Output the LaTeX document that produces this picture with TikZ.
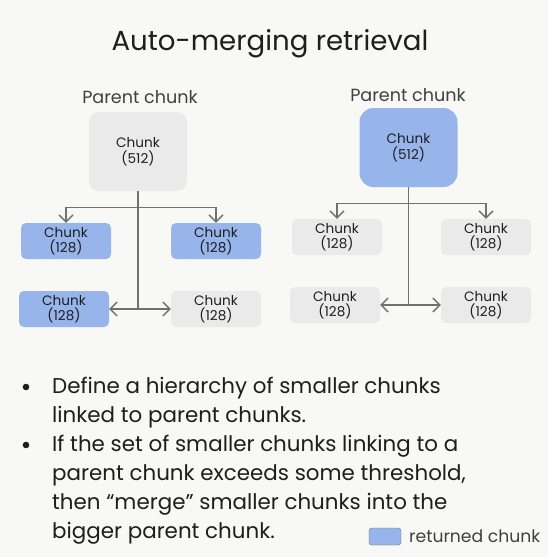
\documentclass[tikz,border=0pt]{standalone}
\usepackage{fontspec}
\setmainfont{Poppins}
\usetikzlibrary{arrows.meta}
\definecolor{chunkblue}{HTML}{97B5EB}
\definecolor{chunkgray}{HTML}{EAEAEA}
\definecolor{pagegray}{HTML}{F8F8F7}
\definecolor{linkgray}{HTML}{707070}
\definecolor{inkblack}{HTML}{1E1E1E}

\tikzset{
  chunk/.style={rounded corners=5pt, minimum width=90pt, minimum height=36pt, inner sep=0pt, align=center, text=inkblack, font=\fontsize{13.6}{15.5}\selectfont},
  parentchunk/.style={chunk, minimum width=98pt, minimum height=79pt, rounded corners=10pt},
  link/.style={draw=linkgray, line width=1.4pt, -{Straight Barb[length=7pt,width=14pt]}},
  caption/.style={anchor=base, text=inkblack!85, font=\fontsize{17.6}{20}\selectfont},
  bullettext/.style={anchor=base west, inner sep=0pt, text=inkblack, font=\fontsize{21.4}{29}\selectfont},
}

\begin{document}
\begin{tikzpicture}[x=1pt, y=-1pt]
\fill[pagegray] (0,0) rectangle (548,557);

\node[anchor=base, inner sep=0pt, text=inkblack, font=\fontsize{27.6}{32}\selectfont] (title) at (270,50) {Auto-merging retrieval};

% left: children returned
\node[caption] (capl) at (140,103) {Parent chunk};
\node[parentchunk, fill=chunkgray] (pl) at (138,151.5) {Chunk\\(512)};
\node[chunk, fill=chunkblue] (la) at (66,241) {Chunk\\(128)};
\node[chunk, fill=chunkblue] (lb) at (216,241) {Chunk\\(128)};
\node[chunk, fill=chunkblue] (lc) at (64,309) {Chunk\\(128)};
\node[chunk, fill=chunkgray] (ld) at (216,309) {Chunk\\(128)};
\draw[link] (pl.south) -- ++(0,16) -| (la.north);
\draw[link] (pl.south) -- ++(0,16) -| (lb.north);
\draw[link] (pl.south) |- (lc.east);
\draw[link] (pl.south) |- (ld.west);

% right: merged into parent
\node[caption] (capr) at (408,101) {Parent chunk};
\node[parentchunk, fill=chunkblue, rounded corners=14pt] (pr) at (408.5,147.5) {Chunk\\(512)};
\node[chunk, fill=chunkgray] (ra) at (337,237) {Chunk\\(128)};
\node[chunk, fill=chunkgray] (rb) at (486,237) {Chunk\\(128)};
\node[chunk, fill=chunkgray] (rc) at (335,305) {Chunk\\(128)};
\node[chunk, fill=chunkgray] (rd) at (486,305) {Chunk\\(128)};
\draw[link] (pr.south) -- ++(0,16) -| (ra.north);
\draw[link] (pr.south) -- ++(0,16) -| (rb.north);
\draw[link] (pr.south) |- (rc.east);
\draw[link] (pr.south) |- (rd.west);

% bullets
\fill[inkblack] (26,387) circle (3.3);
\fill[inkblack] (26,445) circle (3.3);
\node[bullettext] (ba) at (52,393) {Define a hierarchy of smaller chunks};
\node[bullettext] (bb) at (52,422) {linked to parent chunks.};
\node[bullettext] (bc) at (52,451) {If the set of smaller chunks linking to a};
\node[bullettext] (bd) at (52,480) {parent chunk exceeds some threshold,};
\node[bullettext] (be) at (52,509) {then “merge” smaller chunks into the};
\node[bullettext] (bf) at (52,538) {bigger parent chunk.};

% legend
\node[draw=linkgray, fill=chunkblue, rounded corners=3pt, minimum width=32pt, minimum height=17pt, inner sep=0pt] (key) at (385,536.5) {};
\node[anchor=base west, inner sep=0pt, text=inkblack!85, font=\fontsize{17.2}{20}\selectfont] (keytext) at (409,542) {returned chunk};
\end{tikzpicture}
\end{document}
